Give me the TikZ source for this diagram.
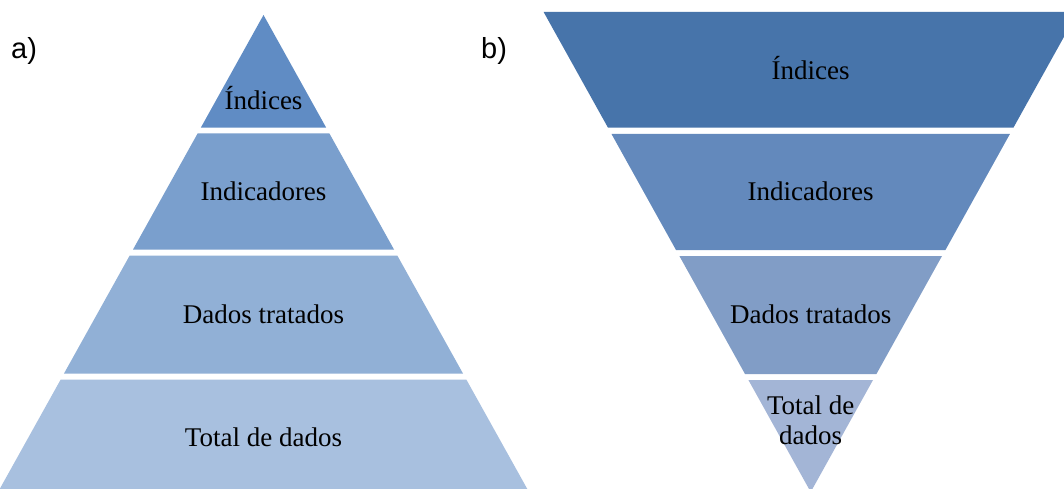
\documentclass[tikz,border=0pt]{standalone}
\usepackage{fontspec}
\setmainfont{Liberation Serif}
\newfontfamily\labelfont{Liberation Sans}
\definecolor{aone}{RGB}{96,140,196}
\definecolor{atwo}{RGB}{122,159,205}
\definecolor{athree}{RGB}{145,176,214}
\definecolor{afour}{RGB}{168,192,223}
\definecolor{bone}{RGB}{71,116,170}
\definecolor{btwo}{RGB}{99,137,188}
\definecolor{bthree}{RGB}{129,157,198}
\definecolor{bfour}{RGB}{163,181,214}
\begin{document}
\begin{tikzpicture}[x=1pt,y=-1pt,
  bandtext/.style={inner sep=0pt,anchor=base,font=\fontsize{27}{30}\selectfont,text=black},
  paneltag/.style={inner sep=0pt,anchor=base west,font=\labelfont\fontsize{29}{34}\selectfont}]
\fill[white] (0,0) rectangle (1064,489);
\useasboundingbox (0,0) rectangle (1064,489);
\begin{scope}
\clip (0,0) rectangle (1064,489);
% ---- a) pyramid: centre 263.5, apex y=15, slope 0.5565
\fill[aone]   (263.5,15) -- (326.2,127.7) -- (200.8,127.7) -- cycle;
\fill[atwo]   (197.7,133.3) -- (329.3,133.3) -- (394.0,249.5) -- (133.0,249.5) -- cycle;
\fill[athree] (129.6,255.7) -- (397.4,255.7) -- (463.1,373.7) -- (63.9,373.7) -- cycle;
\fill[afour]  (60.7,379.5) -- (466.3,379.5) -- (527.3,489) -- (-0.3,489) -- cycle;
% ---- b) funnel: centre 810.7, apex y=492
\fill[bone]   (543.6,12) -- (1077.8,12) -- (1013.4,127.7) -- (608.0,127.7) -- cycle;
\fill[btwo]   (611.5,134) -- (1009.9,134) -- (945.4,250) -- (676.0,250) -- cycle;
\fill[bthree] (679.4,256) -- (942.0,256) -- (876.4,374) -- (745.0,374) -- cycle;
\fill[bfour]  (748.4,380) -- (873.0,380) -- (810.7,492) -- cycle;
\end{scope}
% labels
\node[bandtext] (a1) at (263.5,109.5) {Índices};
\node[bandtext] (a2) at (263.5,200) {Indicadores};
\node[bandtext] (a3) at (263.5,323) {Dados tratados};
\node[bandtext] (a4) at (263.5,446) {Total de dados};
\node[bandtext] (b1) at (810.7,79.5) {Índices};
\node[bandtext] (b2) at (810.7,200) {Indicadores};
\node[bandtext] (b3) at (810.7,323) {Dados tratados};
\node[bandtext,align=center] (b4) at (810.7,444.3) {Total de\\dados};
\node[paneltag] (ta) at (11,58.7) {a)};
\node[paneltag] (tb) at (481,58.7) {b)};
\end{tikzpicture}
\end{document}
